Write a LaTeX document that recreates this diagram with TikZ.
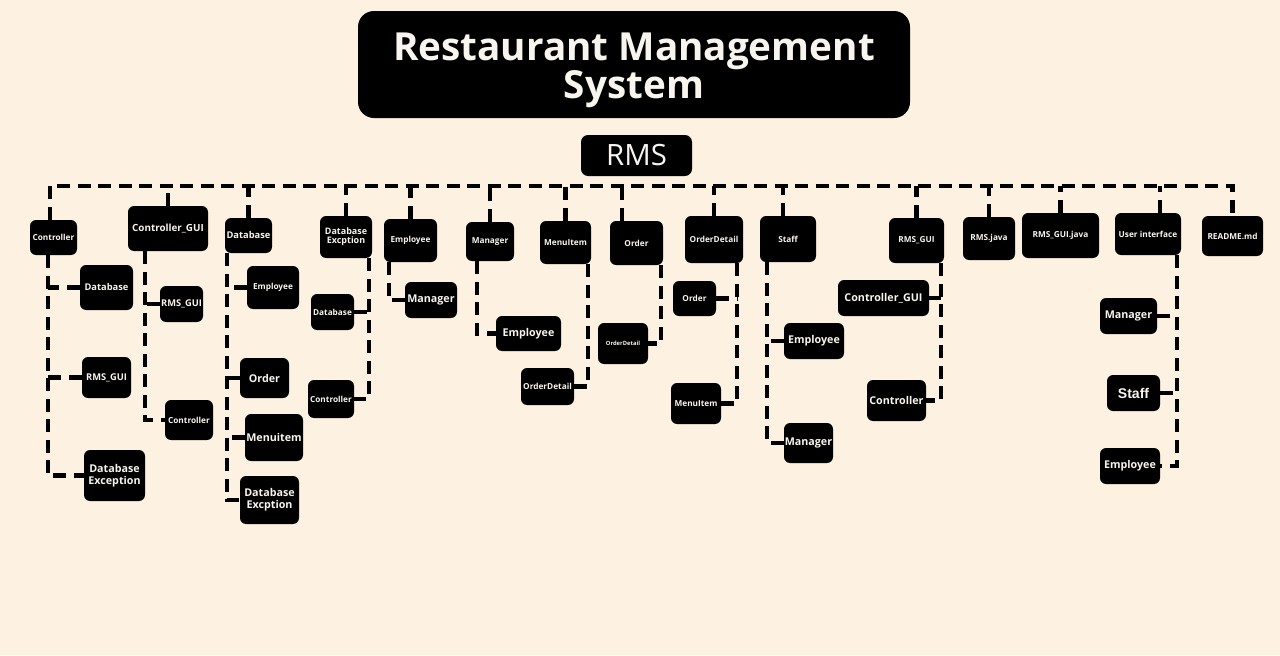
\documentclass[tikz,border=0pt]{standalone}
\usepackage{fontspec}
\setmainfont{Open Sans}
\newfontfamily\staffsans{Liberation Sans}
\usetikzlibrary{positioning}
\definecolor{cream}{HTML}{FDF1E1}
\definecolor{boxtext}{HTML}{F8F4EE}

\begin{document}
\begin{tikzpicture}[
    box/.style={fill=black, text=boxtext, rounded corners=3.5pt, inner sep=0pt, align=center,
                font=\bfseries\fontsize{4.7}{5.2}\selectfont},
    sz/.style 2 args={minimum width=#1cm, minimum height=#2cm},
    mid/.style={font=\bfseries\fontsize{5.3}{5.4}\selectfont},
    big/.style={font=\bfseries\fontsize{6.1}{6.6}\selectfont},
    link/.style={line width=2.6pt, dash pattern=on 0.26cm off 0.15cm},
]
    % page
    \fill[cream] (0,0) rectangle (25.6,-13.1);
    \useasboundingbox (0,0) rectangle (25.6,-13.1);

    % heading
    \node[box, rounded corners=0.32cm, sz={11.04}{2.14}] (title) at (12.68,-1.29) {};
    \node[text=boxtext, align=center, font=\bfseries\fontsize{22}{21.6}\selectfont] (titletext) at ([yshift=-0.12cm]title.center) {Restaurant Management\\System};
    \node[box, rounded corners=4pt, sz={2.22}{0.82}, font=\fontsize{16.7}{17}\selectfont] (rms) at (12.73,-3.11) {RMS};
    \coordinate (busY) at (12.7,-3.72);

    % folders and files of RMS
    \node[box, sz={0.94}{0.70}] (ctrl) at (1.07,-4.75) {Controller};
    \node[box, sz={1.60}{0.90}, font=\bfseries\fontsize{5.6}{6}\selectfont] (cgui) at (3.36,-4.57) {Controller\_GUI};
    \node[box, mid, sz={0.94}{0.70}] (db) at (4.97,-4.71) {Database};
    \node[box, sz={1.04}{0.84}, font=\bfseries\fontsize{5.1}{5.1}\selectfont] (dbex) at (6.92,-4.74) {Database\\Excption};
    \node[box, sz={1.06}{0.86}] (emp) at (8.21,-4.81) {Employee};
    \node[box, sz={0.96}{0.78}] (mgr) at (9.80,-4.83) {Manager};
    \node[box, sz={1.02}{0.86}] (mitem) at (11.31,-4.85) {MenuItem};
    \node[box, sz={1.06}{0.88}] (ord) at (12.73,-4.86) {Order};
    \node[box, sz={1.16}{0.94}] (odet) at (14.28,-4.79) {OrderDetail};
    \node[box, sz={1.12}{0.92}] (staff) at (15.76,-4.78) {Staff};
    \node[box, sz={1.10}{0.90}] (rgui) at (18.33,-4.81) {RMS\_GUI};
    \node[box, sz={1.04}{0.86}] (rjava) at (19.78,-4.77) {RMS.java};
    \node[box, sz={1.54}{0.90}] (rgjava) at (21.21,-4.71) {RMS\_GUI.java};
    \node[box, sz={1.32}{0.84}] (ui) at (22.96,-4.68) {User interface};
    \node[box, sz={1.22}{0.80}] (readme) at (24.65,-4.72) {README.md};

    % inside the folders
    \node[box, mid, sz={1.06}{0.90}] (c1) at (2.13,-5.75) {Database};
    \node[box, mid, sz={0.98}{0.82}] (c2) at (2.13,-7.55) {RMS\_GUI};
    \node[box, big, sz={1.22}{1.02}] (c3) at (2.29,-9.51) {Database\\Exception};
    \node[box, mid, sz={0.86}{0.72}] (g1) at (3.63,-6.08) {RMS\_GUI};
    \node[box, sz={0.96}{0.80}] (g2) at (3.78,-8.40) {Controller};
    \node[box, sz={1.04}{0.86}] (d1) at (5.46,-5.75) {Employee};
    \node[box, big, sz={0.98}{0.80}] (d2) at (5.29,-7.56) {Order};
    \node[box, big, sz={1.16}{0.94}] (d3) at (5.48,-8.75) {Menuitem};
    \node[box, big, sz={1.18}{0.96}, font=\bfseries\fontsize{6.1}{6.8}\selectfont] (d4) at (5.39,-10.00) {Database\\Excption};
    \node[box, sz={0.86}{0.72}] (x1) at (6.65,-6.24) {Database};
    \node[box, sz={0.92}{0.76}] (x2) at (6.62,-7.98) {Controller};
    \node[box, big, sz={1.04}{0.72}] (e1) at (8.62,-6.00) {Manager};
    \node[box, big, sz={1.30}{0.70}] (m1) at (10.57,-6.67) {Employee};
    \node[box, sz={1.06}{0.74}] (i1) at (10.95,-7.73) {OrderDetail};
    \node[box, sz={1.00}{0.82}, font=\bfseries\fontsize{3.3}{3.5}\selectfont] (o1) at (12.46,-6.87) {OrderDetail};
    \node[box, sz={0.86}{0.70}] (od1) at (13.89,-5.97) {Order};
    \node[box, sz={1.00}{0.82}] (od2) at (13.92,-8.07) {MenuItem};
    \node[box, big, sz={1.20}{0.72}] (s1) at (16.28,-6.82) {Employee};
    \node[box, big, sz={0.98}{0.80}] (s2) at (16.17,-8.86) {Manager};
    \node[box, big, sz={1.82}{0.72}] (r1) at (17.67,-5.96) {Controller\_GUI};
    \node[box, big, sz={1.18}{0.82}] (r2) at (17.93,-8.01) {Controller};
    \node[box, big, sz={1.14}{0.72}] (u1) at (22.57,-6.32) {Manager};
    \node[box, sz={1.06}{0.72}, font=\staffsans\bfseries\fontsize{8}{8}\selectfont] (u2) at (22.67,-7.86) {Staff};
    \node[box, big, sz={1.20}{0.72}] (u3) at (22.60,-9.32) {Employee};

    % the dashed bus and its drops
    \coordinate (ctrlD) at ([xshift=-0.07cm]ctrl.north);
    \coordinate (ordD) at ([xshift=-0.29cm]ord.north);
    \coordinate (staffD) at ([xshift=-0.1cm]staff.north);
    \coordinate (uiD) at ([xshift=0.24cm]ui.north);
    \draw[link] (ctrlD) |- (busY -| readme.north) -- (readme.north);
    \foreach \n in {cgui, db, dbex, emp, mgr, mitem, odet, rgui, rjava, rgjava}
        \draw[link] (\n.north) -- (\n.north |- busY);
    \foreach \n in {ordD, staffD, uiD}
        \draw[link] (\n) -- (\n |- busY);

    % trunks
    \coordinate (ctrlT) at ([xshift=-0.11cm]ctrl.south);
    \coordinate (cguiT) at ([xshift=-0.46cm]cgui.south);
    \coordinate (dbT) at ([xshift=-0.43cm]db.south);
    \coordinate (dbexT) at ([xshift=0.46cm]dbex.south);
    \coordinate (empT) at ([xshift=-0.43cm]emp.south);
    \coordinate (mgrT) at ([xshift=-0.26cm]mgr.south);
    \coordinate (mitemT) at ([xshift=0.45cm]mitem.south);
    \coordinate (ordT) at ([xshift=0.49cm]ord.south);
    \coordinate (odetT) at ([xshift=0.46cm]odet.south);
    \coordinate (staffT) at ([xshift=-0.42cm]staff.south);
    \coordinate (rguiT) at ([xshift=0.49cm]rgui.south);
    \coordinate (uiT) at ([xshift=0.58cm]ui.south);

    \draw[link] (ctrlT) |- (c3.west);
    \foreach \n in {c1, c2}
        \draw[link] (\n.west) -- (\n.west -| ctrlT);
    \draw[link] (cguiT) |- (g2.west);
    \draw[link] (g1.west) -- (g1.west -| cguiT);
    \draw[link] (dbT) |- (d4.west);
    \foreach \n in {d1, d2, d3}
        \draw[link] (\n.west) -- (\n.west -| dbT);
    \draw[link] (dbexT) |- (x2.east);
    \draw[link] (x1.east) -- (x1.east -| dbexT);
    \draw[link] (empT) |- (e1.west);
    \draw[link] (mgrT) |- (m1.west);
    \draw[link] (mitemT) |- (i1.east);
    \draw[link] (ordT) |- (o1.east);
    \draw[link] (odetT) |- (od2.east);
    \draw[link] (od1.east) -- (od1.east -| odetT);
    \draw[link] (staffT) |- (s2.west);
    \draw[link] (s1.west) -- (s1.west -| staffT);
    \draw[link] (rguiT) |- (r2.east);
    \draw[link] (r1.east) -- (r1.east -| rguiT);
    \draw[link] (uiT) |- (u3.east);
    \foreach \n in {u1, u2}
        \draw[link] (\n.east) -- (\n.east -| uiT);
\end{tikzpicture}
\end{document}
